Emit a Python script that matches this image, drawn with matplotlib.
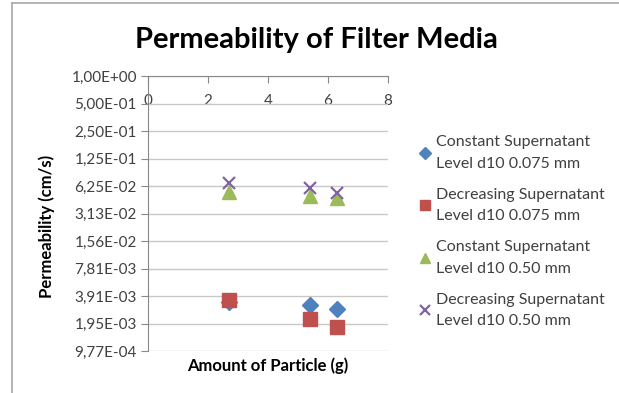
import numpy as np
import matplotlib.pyplot as plt
from matplotlib.lines import Line2D

plt.rcParams['font.family'] = ['Lato', 'DejaVu Sans']

# amount of particle (g) and permeability (cm/s)
x_const_075 = [2.7, 5.4, 6.3]
k_const_075 = [0.0034, 0.00311, 0.00282]
x_decr_075 = [2.7, 5.4, 6.3]
k_decr_075 = [0.00352, 0.00218, 0.00180]
x_const_050 = [2.7, 5.4, 6.3]
k_const_050 = [0.054, 0.048, 0.046]
x_decr_050 = [2.7, 5.4, 6.3]
k_decr_050 = [0.067, 0.059, 0.052]

labels = ["Constant Supernatant\nLevel d10 0.075 mm",
          "Decreasing Supernatant\nLevel d10 0.075 mm",
          "Constant Supernatant\nLevel d10 0.50 mm",
          "Decreasing Supernatant\nLevel d10 0.50 mm"]

ytick_vals = [2.0 ** -k for k in range(0, 11)]
ytick_labels = ["1,00E+00", "5,00E-01", "2,50E-01", "1,25E-01", "6,25E-02",
                "3,13E-02", "1,56E-02", "7,81E-03", "3,91E-03", "1,95E-03",
                "9,77E-04"]
xticks = [0, 2, 4, 6, 8]

fig = plt.figure(figsize=(6.19, 3.93), dpi=100)
# chart frame (only top and left edges show)
fig.lines.append(Line2D([12 / 619, 12 / 619], [0, 1 - 3 / 393], transform=fig.transFigure,
                        color='#a8a8a8', lw=1.2))
fig.lines.append(Line2D([12 / 619, 1], [1 - 3 / 393, 1 - 3 / 393], transform=fig.transFigure,
                        color='#a8a8a8', lw=1.2))

ax = fig.add_axes([148 / 619, 42 / 393, 240 / 619, 275 / 393])

ax.plot(x_const_075, k_const_075, 'D', color='#4F81BD', ms=8, ls='none', label=labels[0])
ax.plot(x_decr_075, k_decr_075, 's', color='#C0504D', ms=9.5, ls='none', label=labels[1])
ax.plot(x_const_050, k_const_050, '^', color='#9BBB59', ms=10, ls='none', label=labels[2])
ax.plot(x_decr_050, k_decr_050, 'x', color='#8064A2', ms=9, mew=1.6, ls='none', label=labels[3])

ax.set_yscale('log', base=2)
ax.set_ylim(2.0 ** -10, 1.0)
ax.set_xlim(0, 8)
ax.set_yticks(ytick_vals)
ax.set_yticklabels(ytick_labels)
ax.minorticks_off()
ax.set_xticks(xticks)

ax.yaxis.grid(True, color='#c8c8c8', lw=1)
ax.set_axisbelow(True)
for s in ['right', 'bottom']:
    ax.spines[s].set_visible(False)
for s in ['left', 'top']:
    ax.spines[s].set_color('#888888')

ax.xaxis.tick_top()
ax.tick_params(axis='x', direction='in', length=5, color='#888888',
               pad=-23, labelsize=11, labelcolor='#404040')
ax.tick_params(axis='y', direction='out', length=5, color='#888888',
               labelsize=11, labelcolor='#404040', pad=3)

fig.text(316 / 619, 1 - 40 / 393, "Permeability of Filter Media",
         ha='center', va='center', fontsize=21, fontweight='bold', color='#000000')
fig.text(268 / 619, 1 - 366 / 393, "Amount of Particle (g)",
         ha='center', va='center', fontsize=12, fontweight='bold', color='#000000')
fig.text(47 / 619, 1 - 226 / 393, "Permeability (cm/s)", rotation=90,
         ha='center', va='center', fontsize=12, fontweight='bold', color='#000000')

leg = fig.legend(loc='upper left', bbox_to_anchor=(412 / 619, 1 - 129 / 393),
                 frameon=False, fontsize=11.5, labelcolor='#404040',
                 handlelength=0.8, handletextpad=0.3, labelspacing=1.07,
                 markerscale=0.75, borderaxespad=0)
for t in leg.get_texts():
    t.set_linespacing(1.67)

fig.savefig('out.png', dpi=100)
